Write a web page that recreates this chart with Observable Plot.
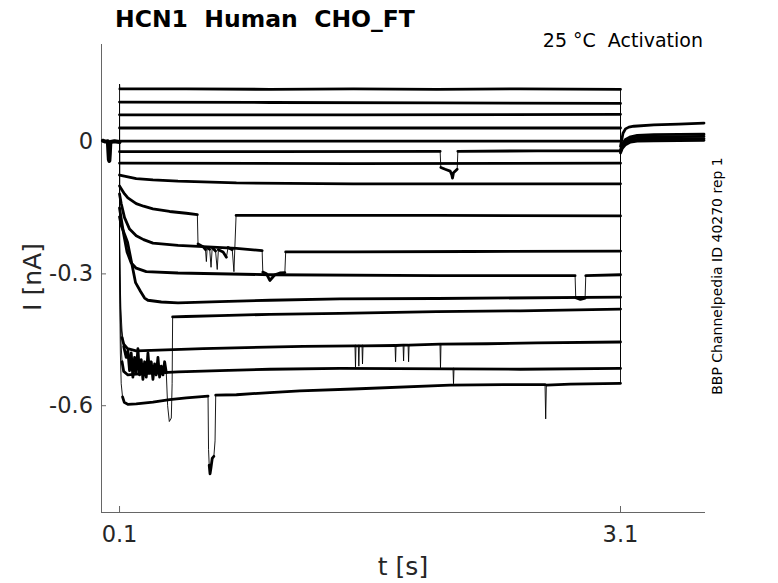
<!DOCTYPE html>
<html><head><meta charset="utf-8">
<script src="https://cdn.jsdelivr.net/npm/d3@7"></script>
<script src="https://cdn.jsdelivr.net/npm/@observablehq/plot@0.6"></script>
<style>body{margin:0;background:#fff;} svg text{white-space:pre;}</style>
</head><body><div id="chart"></div>
<script>
const titleText = "HCN1  Human  CHO_FT";
const conditionText = "25 °C  Activation";
const sourceText = "BBP Channelpedia ID 40270 rep 1";
const xLabel = "t [s]";
const yLabel = "I [nA]";
const xTicks = [0.1, 3.1];
const yTicks = [0, -0.3, -0.6];
const xDomain = [-0.008, 3.609];
const yDomain = [-0.843, 0.222];

// holding current before the step (t, I)
const holding = [[0,0.003],[0.015,0.001],[0.03,0.002],[0.033,-0.02],[0.036,-0.04],[0.039,-0.043],[0.042,-0.025],[0.045,0.0],[0.07,0.002],[0.1,0.0]];

// step sweeps: each sweep is a list of runs, each run a list of [t, I]
const steps = [
  [[[0.1,0.132]], [[0.102,0.121],[0.5,0.121],[1.0,0.12],[1.5,0.121],[2.0,0.12],[2.5,0.121],[3.1,0.12]]],
  [[[0.1,0.091],[1.0,0.09],[2.0,0.089],[3.1,0.088]]],
  [[[0.1,0.062],[1.5,0.062],[3.1,0.063]]],
  [[[0.1,0.032],[1.5,0.032],[3.1,0.032]]],
  [[[0.1,0.002],[1.5,0.002],[3.1,0.002]]],
  [[[0.1,-0.022],[1.0,-0.022],[2.02,-0.021]], [[2.024,-0.058],[2.05,-0.062],[2.08,-0.066],[2.09,-0.075],[2.094,-0.082],[2.1,-0.07],[2.122,-0.062]], [[2.126,-0.021],[2.6,-0.02],[3.1,-0.02]]],
  [[[0.1,-0.048],[1.5,-0.049],[3.1,-0.048]]],
  [[[0.1,-0.075],[0.15,-0.079],[0.2,-0.083],[0.3,-0.086],[0.45,-0.089],[0.8,-0.093],[1.5,-0.095],[2.2,-0.095],[3.1,-0.095]]],
  [[[0.1,-0.1],[0.11,-0.106],[0.13,-0.118],[0.15,-0.127],[0.2,-0.14],[0.244,-0.146],[0.3,-0.152],[0.4,-0.158],[0.5,-0.162],[0.566,-0.165]],
   [[0.57,-0.232],[0.6,-0.238],[0.615,-0.245]], [[0.62,-0.272]], [[0.625,-0.24],[0.64,-0.244]], [[0.648,-0.285]], [[0.655,-0.24],[0.675,-0.248]], [[0.685,-0.29]], [[0.692,-0.245],[0.72,-0.25],[0.74,-0.262]], [[0.75,-0.24],[0.775,-0.245]], [[0.785,-0.295]],
   [[0.798,-0.167],[1.2,-0.167],[2.0,-0.167],[3.1,-0.168]]],
  [[[0.1,-0.118],[0.11,-0.14],[0.13,-0.172],[0.16,-0.198],[0.2,-0.213],[0.244,-0.222],[0.3,-0.23],[0.45,-0.235],[0.6,-0.238],[0.8,-0.242],[0.954,-0.247]],
   [[0.958,-0.296],[0.98,-0.3],[1.0,-0.315],[1.03,-0.302],[1.06,-0.298],[1.09,-0.297]],
   [[1.095,-0.25],[1.5,-0.25],[2.2,-0.249],[3.1,-0.248]]],
  [[[0.1,-0.15],[0.106,-0.165],[0.125,-0.21],[0.145,-0.25],[0.17,-0.275],[0.2,-0.287],[0.26,-0.295],[0.45,-0.298],[1.0,-0.302],[2.0,-0.304],[2.828,-0.304]],
   [[2.832,-0.354],[2.86,-0.358],[2.888,-0.355]],
   [[2.892,-0.304],[3.1,-0.302]]],
  [[[0.1,-0.17],[0.11,-0.19],[0.13,-0.21],[0.148,-0.228],[0.17,-0.27],[0.196,-0.32],[0.226,-0.34],[0.25,-0.355],[0.27,-0.36],[0.35,-0.364],[0.45,-0.366],[0.7,-0.363],[1.0,-0.36],[1.42,-0.357],[2.0,-0.356],[3.1,-0.353]]],
  [[[0.1,-0.2]],[[0.103,-0.3]],[[0.108,-0.38]],[[0.115,-0.43]],
   [[0.125,-0.465],[0.14,-0.49],[0.15,-0.475],[0.16,-0.52],[0.17,-0.48],[0.18,-0.535],[0.19,-0.49],[0.2,-0.525],[0.21,-0.47],[0.22,-0.53],[0.23,-0.495],[0.24,-0.54],[0.25,-0.5],[0.26,-0.535],[0.27,-0.48],[0.28,-0.525],[0.29,-0.5],[0.3,-0.54],[0.31,-0.505],[0.32,-0.53],[0.33,-0.49],[0.34,-0.535],[0.35,-0.51],[0.36,-0.53],[0.37,-0.5],[0.38,-0.525]],
   [[0.388,-0.6]],[[0.398,-0.636]],[[0.41,-0.628]],[[0.415,-0.55]],
   [[0.418,-0.398],[0.5,-0.397],[0.7,-0.395],[1.0,-0.392],[1.42,-0.39],[2.0,-0.386],[2.5,-0.384],[3.1,-0.38]]],
  [[[0.1,-0.22]],[[0.103,-0.33]],[[0.108,-0.41]],
   [[0.115,-0.445],[0.125,-0.46],[0.148,-0.47],[0.2,-0.475],[0.6,-0.47],[1.2,-0.465],[1.51,-0.464]], [[1.513,-0.512]], [[1.516,-0.464],[1.53,-0.464]], [[1.533,-0.51]], [[1.536,-0.464],[1.552,-0.464]], [[1.555,-0.505]],
   [[1.558,-0.464],[1.75,-0.463]], [[1.753,-0.5]], [[1.756,-0.463],[1.798,-0.462]], [[1.801,-0.498]], [[1.804,-0.462],[1.828,-0.462]], [[1.831,-0.5]],
   [[1.834,-0.462],[2.019,-0.46]], [[2.022,-0.514]], [[2.025,-0.46],[2.3,-0.459],[2.6,-0.457],[3.1,-0.455]]],
  [[[0.1,-0.24]],[[0.103,-0.37]],[[0.108,-0.45]],
   [[0.115,-0.5],[0.125,-0.522],[0.15,-0.53],[0.2,-0.528],[0.3,-0.526],[0.45,-0.523],[0.7,-0.52],[1.0,-0.517],[1.42,-0.515],[2.097,-0.516]], [[2.1,-0.55]],
   [[2.103,-0.516],[2.5,-0.517],[3.1,-0.515]]],
  [[[0.1,-0.26]],[[0.102,-0.38]],[[0.105,-0.48]],[[0.11,-0.55]],
   [[0.118,-0.58],[0.128,-0.592],[0.15,-0.597],[0.2,-0.596],[0.3,-0.592],[0.4,-0.586],[0.5,-0.582],[0.63,-0.578]], [[0.633,-0.7]],
   [[0.637,-0.735],[0.642,-0.755],[0.648,-0.74],[0.655,-0.72],[0.665,-0.715]], [[0.672,-0.68]],
   [[0.676,-0.576],[0.8,-0.575],[1.0,-0.57],[1.18,-0.566],[1.5,-0.562],[2.08,-0.553],[2.4,-0.552],[2.648,-0.552]], [[2.652,-0.63]],
   [[2.656,-0.553],[2.8,-0.551],[3.1,-0.549]]]
];

// tail currents after the step
const tails = [
  [[3.1,-0.01],[3.105,0.0],[3.115,0.02],[3.13,0.03],[3.15,0.034],[3.18,0.036],[3.3,0.039],[3.45,0.041],[3.6,0.043]],
  [[3.1,-0.02],[3.11,-0.005],[3.13,0.006],[3.16,0.012],[3.2,0.015],[3.3,0.017],[3.6,0.018]],
  [[3.1,-0.02],[3.11,-0.008],[3.13,0.002],[3.16,0.008],[3.2,0.011],[3.3,0.012],[3.6,0.013]],
  [[3.1,-0.022],[3.11,-0.012],[3.13,-0.002],[3.16,0.004],[3.2,0.006],[3.3,0.007],[3.6,0.008]],
  [[3.1,-0.025],[3.11,-0.015],[3.13,-0.006],[3.16,0.0],[3.2,0.002],[3.3,0.003],[3.6,0.004]]
];

const thin = [], thick = [], hold = [], tail = [];
const holdEnd = holding[holding.length - 1];
const tailStart = tails[1][0];
steps.forEach((runs, i) => {
  [holdEnd, ...runs.flat(), tailStart].forEach(([t, I]) => thin.push({t, I, z: "s" + i}));
  runs.forEach((run, j) => {
    if (run.length > 1) run.forEach(([t, I]) => thick.push({t, I, z: `s${i}-${j}`}));
  });
});
holding.forEach(([t, I]) => hold.push({t, I}));
tails.forEach((tr, i) => tr.forEach(([t, I]) => tail.push({t, I, z: "t" + i})));

const axisColor = "#262626";
const plot = Plot.plot({
  width: 778, height: 583,
  marginLeft: 101, marginRight: 73, marginTop: 44, marginBottom: 71,
  x: {domain: xDomain, label: null},
  y: {domain: yDomain, label: null},
  style: {fontFamily: "DejaVu Sans", fontSize: "22.5px", color: axisColor, background: "#fff", overflow: "visible"},
  marks: [
    Plot.ruleX([xDomain[0]], {stroke: "#666", strokeWidth: 1}),
    Plot.ruleY([yDomain[0]], {stroke: "#666", strokeWidth: 1}),
    Plot.axisX(xTicks, {anchor: "bottom", tickSize: -6, tickPadding: 20, tickFormat: d => String(d), stroke: "#666", fill: axisColor, fontSize: 22.5, label: null}),
    Plot.axisY(yTicks, {anchor: "left", tickSize: -5, tickPadding: 13.5, tickFormat: d => String(d), stroke: "#666", fill: axisColor, fontSize: 22.5, label: null}),
    Plot.line(thin, {x: "t", y: "I", z: "z", stroke: "#000", strokeWidth: 0.9}),
    Plot.line(thick, {x: "t", y: "I", z: "z", stroke: "#000", strokeWidth: 2.8, strokeLinejoin: "round"}),
    Plot.line(hold, {x: "t", y: "I", stroke: "#000", strokeWidth: 4, strokeLinejoin: "round"}),
    Plot.line(tail, {x: "t", y: "I", z: "z", stroke: "#000", strokeWidth: 2.8, strokeLinejoin: "round"})
  ]
});

const svg = d3.select(plot).attr("xml:space", "preserve");
svg.append("text").attr("x", 115).attr("y", 27).attr("font-size", 23.5).attr("font-weight", "bold")
  .attr("text-anchor", "start").attr("fill", "#000").text(titleText);
svg.append("text").attr("x", 703).attr("y", 47).attr("font-size", 19).attr("text-anchor", "end")
  .attr("fill", "#000").text(conditionText);
svg.append("text").attr("x", 403).attr("y", 575).attr("font-size", 25).attr("text-anchor", "middle")
  .attr("fill", axisColor).text(xLabel);
svg.append("text").attr("transform", "translate(41,277) rotate(-90)").attr("font-size", 25).attr("text-anchor", "middle")
  .attr("fill", axisColor).text(yLabel);
svg.append("text").attr("transform", "translate(722,276) rotate(-90)").attr("font-size", 14).attr("text-anchor", "middle")
  .attr("fill", "#000").text(sourceText);

document.getElementById("chart").appendChild(plot);
</script>
</body></html>
